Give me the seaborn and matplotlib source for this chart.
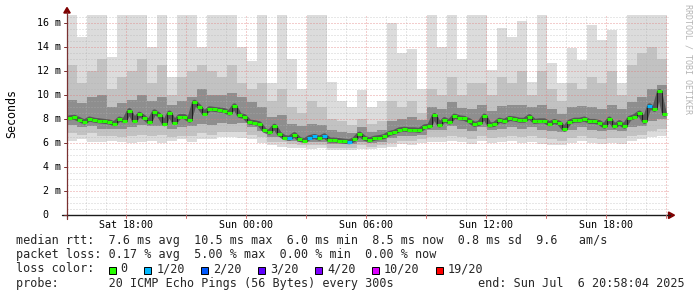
import numpy as np
import pandas as pd
import matplotlib
matplotlib.use("Agg")
import matplotlib.pyplot as plt
from matplotlib.patches import Rectangle, Polygon
from matplotlib.lines import Line2D
import seaborn as sns

# ---------------- data ----------------
# time axis in hours after Sat 15:00; window starts Sat 15:03
T_START = 0.05
MED_STEP = 0.25      # median sampled every 15 min
SMOKE_STEP = 0.5     # smoke bands every 30 min

median_ms = [
    8.1, 8.15, 7.95, 7.75, 8.0, 7.9, 7.85, 7.8, 7.75, 7.6,
    8.0, 7.85, 8.7, 7.85, 8.4, 8.1, 7.75, 8.6, 8.3, 7.6,
    8.5, 7.7, 8.2, 8.2, 7.9, 9.4, 9.0, 8.45, 8.85, 8.8,
    8.75, 8.7, 8.5, 9.1, 8.3, 8.2, 7.75, 7.7, 7.6, 7.05,
    6.9, 7.4, 6.75, 6.45, 6.4, 6.7, 6.3, 6.2, 6.45, 6.55,
    6.4, 6.6, 6.25, 6.25, 6.2, 6.15, 6.1, 6.3, 6.75, 6.4,
    6.25, 6.4, 6.45, 6.55, 6.8, 6.9, 7.1, 7.15, 7.1, 7.1,
    7.05, 7.35, 7.4, 8.3, 7.5, 7.95, 7.75, 8.25, 8.1, 8.05,
    7.85, 7.55, 7.65, 8.25, 7.5, 7.55, 7.9, 7.8, 8.05, 8.0,
    7.9, 7.9, 8.2, 7.8, 7.85, 7.85, 7.6, 7.8, 7.65, 7.15,
    7.75, 7.9, 7.9, 8.0, 7.8, 7.8, 7.7, 7.4, 8.0, 7.4,
    7.7, 7.4, 8.05, 8.2, 8.5, 7.8, 9.1, 8.8, 10.3, 8.4,
]
# samples (index into median_ms) that lost 1 of 20 pings
loss_1of20_samples = [44, 48, 49, 51, 56, 116]

smoke_max = [
    16.7, 14.8, 16.7, 16.7, 13.2, 16.7, 16.7, 16.7, 14.0, 16.7,
    11.5, 16.7, 16.7, 14.0, 16.7, 16.7, 16.7, 14.0, 12.8, 16.7,
    11.0, 16.7, 13.0, 10.5, 16.7, 16.7, 11.1, 9.5, 9.0, 10.4,
    9.0, 9.5, 16.0, 13.5, 13.8, 10.5, 16.7, 14.0, 16.7, 13.0,
    16.7, 16.7, 12.1, 15.6, 14.8, 16.2, 11.1, 16.7, 12.7, 11.0,
    13.9, 12.9, 15.8, 14.6, 15.4, 11.0, 16.7, 16.7, 16.7, 16.7,
]
smoke_p90 = [
    12.5, 11.0, 12.0, 13.0, 10.5, 11.5, 12.0, 13.0, 11.0, 12.5,
    10.0, 11.5, 12.0, 12.5, 12.0, 11.5, 12.5, 11.0, 10.5, 11.0,
    9.5, 10.5, 9.0, 8.5, 9.5, 9.0, 8.0, 7.8, 7.5, 8.0,
    7.6, 7.8, 9.5, 9.0, 9.5, 8.5, 10.5, 10.0, 11.5, 10.0,
    11.0, 11.0, 10.0, 11.5, 11.0, 12.0, 10.0, 12.0, 10.5, 9.5,
    11.0, 10.5, 11.5, 11.0, 12.0, 10.0, 12.5, 13.5, 14.0, 13.0,
]
smoke_p75 = [
    9.6, 9.3, 9.8, 10.0, 9.0, 9.3, 9.6, 10.0, 9.5, 9.8,
    9.2, 9.5, 9.8, 10.5, 10.0, 10.0, 10.2, 9.8, 9.4, 9.0,
    8.2, 8.3, 7.6, 7.4, 7.6, 7.5, 7.1, 6.9, 6.8, 7.3,
    6.9, 7.1, 7.8, 8.0, 8.2, 7.9, 9.0, 8.8, 9.4, 8.9,
    8.8, 9.2, 8.7, 9.1, 9.2, 9.2, 9.0, 9.2, 8.8, 8.4,
    9.0, 9.1, 9.0, 8.8, 9.2, 8.8, 9.4, 9.8, 10.5, 10.8,
]
smoke_p25 = [
    7.5, 7.3, 7.4, 7.2, 7.2, 7.2, 7.3, 7.5, 7.4, 7.4,
    7.2, 7.3, 7.4, 7.6, 7.5, 7.7, 7.6, 7.7, 7.3, 7.0,
    6.5, 6.5, 6.2, 6.1, 6.1, 6.1, 5.9, 5.9, 5.9, 6.1,
    6.0, 6.1, 6.4, 6.6, 6.6, 6.7, 7.1, 7.1, 7.4, 7.2,
    7.0, 7.3, 7.1, 7.2, 7.3, 7.2, 7.3, 7.1, 7.0, 6.9,
    7.1, 7.3, 7.1, 7.0, 7.1, 7.0, 7.3, 7.4, 7.8, 8.0,
]
smoke_p10 = [
    6.8, 6.7, 6.8, 6.6, 6.6, 6.5, 6.6, 6.7, 6.6, 6.7,
    6.5, 6.6, 6.6, 6.8, 6.7, 6.9, 6.9, 6.9, 6.7, 6.5,
    6.1, 6.1, 5.9, 5.8, 5.8, 5.8, 5.6, 5.6, 5.6, 5.8,
    5.7, 5.8, 6.0, 6.2, 6.2, 6.3, 6.5, 6.5, 6.6, 6.5,
    6.3, 6.6, 6.4, 6.5, 6.6, 6.5, 6.6, 6.4, 6.3, 6.2,
    6.4, 6.6, 6.4, 6.3, 6.4, 6.4, 6.6, 6.7, 7.0, 7.2,
]
smoke_min = [
    6.2, 6.3, 6.1, 6.1, 6.2, 6.1, 6.0, 6.1, 6.2, 6.0,
    6.2, 6.3, 6.1, 6.3, 6.3, 6.5, 6.5, 6.4, 6.3, 6.0,
    5.8, 5.7, 5.6, 5.6, 5.5, 5.6, 5.4, 5.4, 5.4, 5.5,
    5.5, 5.6, 5.7, 5.9, 5.8, 6.0, 6.1, 6.1, 6.2, 6.1,
    5.9, 6.2, 6.0, 6.1, 6.2, 6.0, 6.1, 5.9, 5.8, 5.8,
    6.0, 6.2, 6.0, 5.9, 6.0, 5.9, 6.2, 6.3, 6.5, 6.6,
]

x_tick_hours = [3, 9, 15, 21, 27]
x_tick_labels = ["Sat 18:00", "Sun 00:00", "Sun 06:00", "Sun 12:00", "Sun 18:00"]
y_tick_values = [0, 2, 4, 6, 8, 10, 12, 14, 16]
y_tick_labels = ["0", "2 m", "4 m", "6 m", "8 m", "10 m", "12 m", "14 m", "16 m"]

loss_labels = ["0", "1/20", "2/20", "3/20", "4/20", "10/20", "19/20"]
loss_colors = ["#26ff00", "#00b8ff", "#0059ff", "#5e00ff", "#7e00ff", "#dd00ff", "#ff0000"]

legend_line1 = "median rtt:  7.6 ms avg  10.5 ms max  6.0 ms min  8.5 ms now  0.8 ms sd  9.6   am/s"
legend_line2 = "packet loss: 0.17 % avg  5.00 % max  0.00 % min  0.00 % now"
legend_line3 = "loss color:"
legend_line4 = "probe:       20 ICMP Echo Pings (56 Bytes) every 300s"
legend_end = "end: Sun Jul  6 20:58:04 2025"
y_title = "Seconds"
watermark = "RRDTOOL / TOBI OETIKER"

# ---------------- figure ----------------
sns.set_theme(style="white")
plt.rcParams["font.family"] = ["DejaVu Sans Mono"]
W, H = 697, 297
fig = plt.figure(figsize=(W / 100, H / 100), dpi=100)
fig.patch.set_facecolor("white")

L, R, TOP, BOT = 67, 669, 15, 215
ax = fig.add_axes([L / W, 1 - BOT / H, (R - L) / W, (BOT - TOP) / H])
ax.set_facecolor("white")
YMAX = 16.67
ax.set_xlim(T_START, T_START + (R - L) / 20)
ax.set_ylim(0, YMAX)
for s in ax.spines.values():
    s.set_visible(False)
ax.set_xticks([])
ax.set_yticks([])

def fx(x):
    return x / W

def fy(y):
    return 1 - y / H

# smoke
n_sm = len(smoke_max)
edges = T_START + SMOKE_STEP * np.arange(n_sm + 1)

def stepv(a):
    a = np.asarray(a, dtype=float)
    return np.append(a, a[-1])

ax.fill_between(edges, stepv(smoke_min), stepv(smoke_max), step="post",
                color="#dcdcdc", lw=0, zorder=1)
ax.fill_between(edges, stepv(smoke_p10), stepv(smoke_p90), step="post",
                color="#c2c2c2", lw=0, zorder=1.1)
ax.fill_between(edges, stepv(smoke_p25), stepv(smoke_p75), step="post",
                color="#8e8e8e", lw=0, zorder=1.2)

# grid (dotted, above smoke)
for k in range(1, 34):
    v = k * 0.5
    if v > YMAX:
        break
    major = (k % 4 == 0)
    ax.axhline(v, color="#e07a7a" if major else "#b0b0b0", lw=0.72,
               ls=(0, (1, 2)), alpha=0.75 if major else 0.6, zorder=3)
for h in range(1, 31):
    major = (h % 3 == 0)
    ax.axvline(h, color="#e07a7a" if major else "#b0b0b0", lw=0.72,
               ls=(0, (1, 2)), alpha=0.75 if major else 0.6, zorder=3)

# median
t_med = T_START + MED_STEP / 2 + MED_STEP * np.arange(len(median_ms))
df = pd.DataFrame({"t": t_med, "median": median_ms})
sns.lineplot(data=df, x="t", y="median", ax=ax, estimator=None, sort=True,
             color="#4a4a4a", lw=3.6, alpha=0.8, zorder=4, legend=False)
sns.lineplot(data=df, x="t", y="median", ax=ax, estimator=None, sort=True,
             drawstyle="steps-mid", color="#151515", lw=0.6, zorder=5,
             legend=False)
seg_colors = [loss_colors[1] if i in loss_1of20_samples else loss_colors[0]
              for i in range(len(median_ms))]
ax.hlines(df["median"], df["t"] - MED_STEP / 2, df["t"] + MED_STEP / 2,
          colors=seg_colors, lw=2.2, zorder=6)
ax.set_xlabel("")
ax.set_ylabel("")

# axes lines and arrows
fig.add_artist(Line2D([fx(L), fx(L)], [fy(219), fy(12)], color="#7a3030", lw=0.9))
fig.add_artist(Line2D([fx(62), fx(670)], [fy(BOT), fy(BOT)], color="#1a1a1a", lw=1.0))
fig.add_artist(Polygon([[fx(668.5), fy(212)], [fx(668.5), fy(218.5)], [fx(674.5), fy(215.2)]],
                       closed=True, color="#7f0000", transform=fig.transFigure))
fig.add_artist(Polygon([[fx(63.8), fy(13)], [fx(70.2), fy(13)], [fx(67), fy(7.5)]],
                       closed=True, color="#7f0000", transform=fig.transFigure))
# small axis ticks
for v in y_tick_values:
    yp = BOT - v * (BOT - TOP) / YMAX
    fig.add_artist(Line2D([fx(63.5), fx(L)], [fy(yp), fy(yp)], color="#7a3030", lw=0.7))
for h in range(3, 31, 3):
    xp = L + (h - T_START) * 20
    fig.add_artist(Line2D([fx(xp), fx(xp)], [fy(BOT), fy(BOT + 2.5)], color="#d07070", lw=0.7))

# tick labels
tick_fs = 7.2
for v, lab in zip(y_tick_values, y_tick_labels):
    yp = BOT - v * (BOT - TOP) / YMAX
    xr = 60.5 if lab.endswith("m") else 48.5
    fig.text(fx(xr), fy(yp + 3.4), lab, ha="right", va="baseline",
             fontsize=tick_fs, color="black")
for h, lab in zip(x_tick_hours, x_tick_labels):
    xp = L + (h - T_START) * 20
    fig.text(fx(xp), fy(227.5), lab, ha="center", va="baseline",
             fontsize=tick_fs, color="black")

fig.text(fx(11.5), fy(114), y_title, rotation=90, ha="center", va="center",
         fontsize=8.4, color="black")
fig.text(fx(688), fy(4.5), watermark, rotation=270, ha="center", va="top",
         fontsize=6.0, color="#b4b4b4")

# legend
lf = 8.45
fig.text(fx(16), fy(244.3), legend_line1, ha="left", va="baseline", fontsize=lf)
fig.text(fx(16), fy(258.4), legend_line2, ha="left", va="baseline", fontsize=lf)
fig.text(fx(16), fy(272.5), legend_line3, ha="left", va="baseline", fontsize=lf)
fig.text(fx(16), fy(286.6), legend_line4, ha="left", va="baseline", fontsize=lf)
fig.text(fx(478.3), fy(286.6), legend_end, ha="left", va="baseline", fontsize=lf)

char_w = 7.1
xpos = 108.7
for lab, col in zip(loss_labels, loss_colors):
    fig.add_artist(Rectangle((fx(xpos), fy(274)), 7 / W, 7 / H,
                             facecolor=col, edgecolor="black", lw=0.7,
                             transform=fig.transFigure))
    fig.text(fx(xpos + 12), fy(272.5), lab, ha="left", va="baseline", fontsize=lf)
    xpos += 12 + len(lab) * char_w + 16.5

fig.savefig("out.png", dpi=100, facecolor="white")
